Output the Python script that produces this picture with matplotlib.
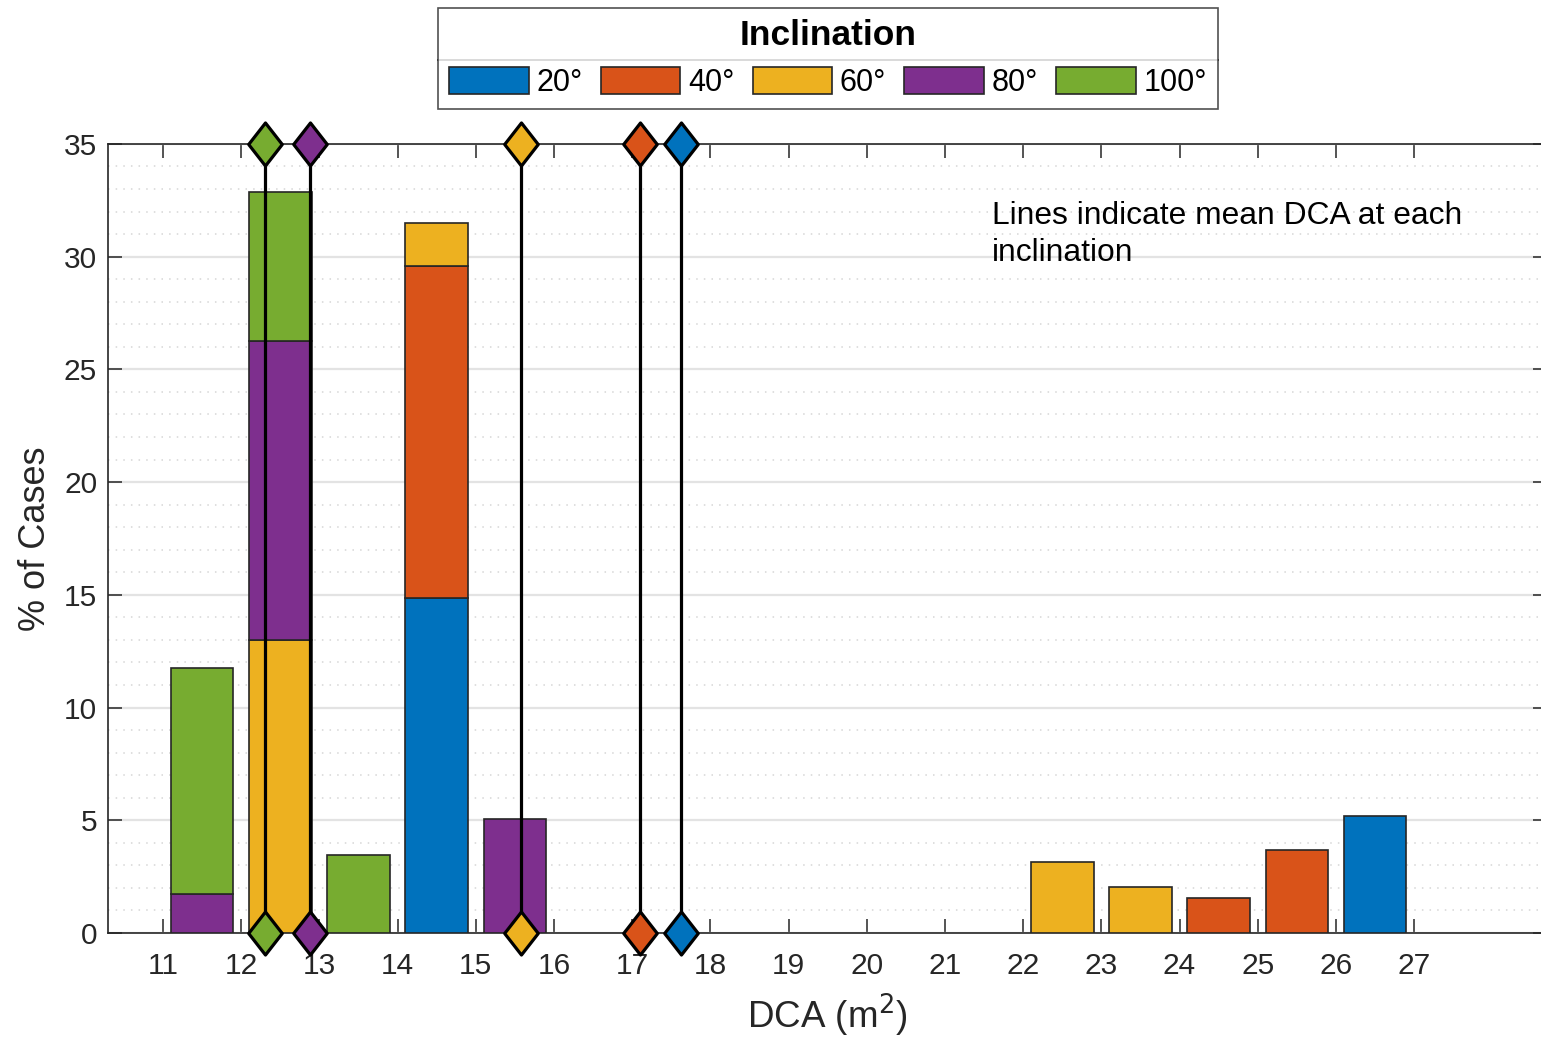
import numpy as np
import matplotlib
matplotlib.use("Agg")
import matplotlib.pyplot as plt
from matplotlib.patches import Patch
from matplotlib.path import Path
from matplotlib.lines import Line2D
from matplotlib.ticker import MultipleLocator

plt.rcParams["font.family"] = ["Liberation Sans", "DejaVu Sans"]

# ── Histogram data: % of all cases per 1 m^2 DCA bin (bin left edges) ────────
bin_edges = np.arange(11, 27)
inclinations = ["20°", "40°", "60°", "80°", "100°"]
pct_20  = [0, 0, 0, 14.84, 0, 0, 0, 0, 0, 0, 0, 0, 0, 0, 0, 5.17]
pct_40  = [0, 0, 0, 14.76, 0, 0, 0, 0, 0, 0, 0, 0, 0, 1.56, 3.66, 0]
pct_60  = [0, 13.00, 0, 1.90, 0, 0, 0, 0, 0, 0, 0, 3.15, 2.03, 0, 0, 0]
pct_80  = [1.72, 13.28, 0, 0, 5.04, 0, 0, 0, 0, 0, 0, 0, 0, 0, 0, 0]
pct_100 = [10.02, 6.58, 3.44, 0, 0, 0, 0, 0, 0, 0, 0, 0, 0, 0, 0, 0]

# mean DCA for each inclination
mean_dca = [17.62, 17.10, 15.58, 12.88, 12.30]

COLORS = ["#0072BD", "#D95319", "#EDB120", "#7E2F8E", "#77AC30"]
EDGE = "#262626"

fig = plt.figure(figsize=(15.41, 10.40), dpi=100)
ax = fig.add_axes([0.0703, 0.1029, 0.9336, 0.7587])

series = [pct_20, pct_40, pct_60, pct_80, pct_100]
bottom = np.zeros(len(bin_edges))
centers = bin_edges + 0.5
for vals, col in zip(series, COLORS):
    vals = np.asarray(vals, dtype=float)
    keep = vals > 0
    ax.bar(centers[keep], vals[keep], width=0.8, bottom=bottom[keep],
           color=col, edgecolor=EDGE, linewidth=1.2, zorder=3)
    bottom += vals

ax.set_xlim(10.3, 28.7)
ax.set_ylim(0, 35)

# mean lines with diamond caps
diamond = Path([(0, 1), (0.78, 0), (0, -1), (-0.78, 0), (0, 1)],
               [Path.MOVETO, Path.LINETO, Path.LINETO, Path.LINETO, Path.CLOSEPOLY])
for m, col in zip(mean_dca, COLORS):
    ax.plot([m, m], [0, 35], color="black", linewidth=2.3, zorder=4, clip_on=False)
    ax.plot([m, m], [0, 35], linestyle="none", marker=diamond, markersize=31,
            markerfacecolor=col, markeredgecolor="black", markeredgewidth=2.3,
            zorder=5, clip_on=False)

# axes styling
ax.set_xticks(np.arange(11, 28))
ax.set_yticks(np.arange(0, 36, 5))
ax.yaxis.set_minor_locator(MultipleLocator(1))
ax.tick_params(which="major", direction="in", length=10, width=1.1, color=EDGE,
               top=True, right=True, labelsize=21.5, labelcolor="#262626")
ax.tick_params(axis="x", pad=14)
ax.tick_params(axis="y", pad=8)
ax.tick_params(which="minor", length=0)
ax.grid(True, axis="y", which="major", color="#e3e3e3", linewidth=1.6, zorder=0)
ax.grid(True, axis="y", which="minor", color="#d6d6d6", linewidth=1.1,
        linestyle=(0, (1.0, 4.0)), zorder=0)
ax.set_axisbelow(True)
for s in ax.spines.values():
    s.set_color(EDGE)
    s.set_linewidth(1.2)

ax.set_xlabel("DCA (m$^2$)", fontsize=26.5, color="#262626", labelpad=8)
ax.set_ylabel("% of Cases", fontsize=26, color="#262626", labelpad=8)

ax.text(21.6, 32.45, "Lines indicate mean DCA at each\ninclination", fontsize=22.9,
        va="top", ha="left", linespacing=1.28, color="black", zorder=6)

# legend across the top with a title row
handles = [Patch(facecolor=c, edgecolor=EDGE, linewidth=1.2) for c in COLORS]
leg = fig.legend(handles, inclinations, loc="upper center",
                 bbox_to_anchor=(0.5373, 0.9923), borderaxespad=0, ncol=5,
                 fontsize=22, title="Inclination",
                 title_fontproperties={"weight": "bold", "size": 25.5},
                 handlelength=2.6, handleheight=0.98, handletextpad=0.25,
                 columnspacing=0.6, borderpad=0.36, labelspacing=0.5,
                 fancybox=False, frameon=True, edgecolor=EDGE)
leg.get_frame().set_linewidth(1.2)

fig.canvas.draw()
renderer = fig.canvas.get_renderer()
fb = leg.get_frame().get_window_extent(renderer)
tb = leg.get_title().get_window_extent(renderer)
hb = leg._legend_handle_box.get_window_extent(renderer)
y_sep = (tb.y0 + hb.y1) / 2
inv = fig.transFigure.inverted()
(x0, y0), (x1, _) = inv.transform([(fb.x0, y_sep), (fb.x1, y_sep)])
fig.add_artist(Line2D([x0, x1], [y0, y0], transform=fig.transFigure,
                      color=EDGE, linewidth=1.2))

fig.savefig("out.png", dpi=100)
